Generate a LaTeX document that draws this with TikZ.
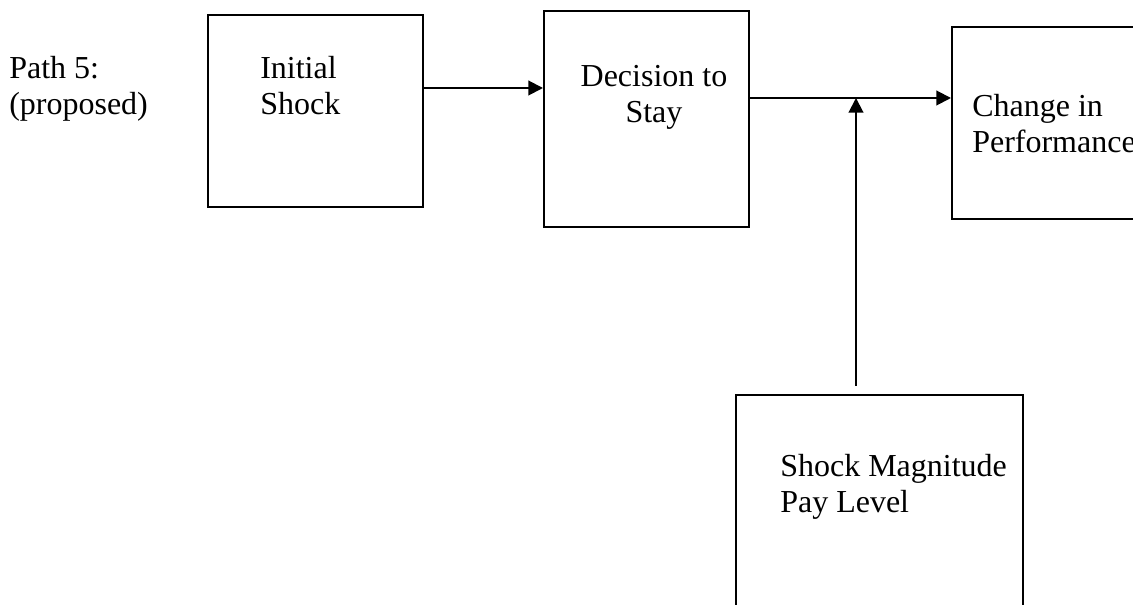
\documentclass[tikz,border=0pt]{standalone}
\usepackage{fontspec}
\setmainfont{Liberation Serif}
\usetikzlibrary{arrows.meta}
\begin{document}
\begin{tikzpicture}[x=0.75pt,y=-0.75pt,
  box/.style={draw=black,line width=1.5pt},
  arr/.style={draw=black,line width=1.5pt,-{Triangle[length=11pt,width=11pt]}},
  lbl/.style={inner sep=0pt,anchor=base west,font=\fontsize{24}{27}\selectfont},
  clbl/.style={inner sep=0pt,anchor=base,font=\fontsize{24}{27}\selectfont}]
\useasboundingbox (0,0) rectangle (1133,605);
\clip (0,0) rectangle (1133,605);
% boxes
\node[box,inner sep=0pt,minimum width=215*0.75pt,minimum height=192*0.75pt] (init) at (315.5,111) {};
\node[box,inner sep=0pt,minimum width=205*0.75pt,minimum height=216*0.75pt] (dec) at (646.5,119) {};
\node[box,inner sep=0pt,minimum width=200*0.75pt,minimum height=192*0.75pt] (chg) at (1052,123) {};
\node[box,inner sep=0pt,minimum width=287*0.75pt,minimum height=240*0.75pt] (mag) at (879.5,515) {};
% texts
\node[lbl] (p1) at (9,79) {Path 5:};
\node[lbl] (p2) at (9,115) {(proposed)};
\node[lbl] (i1) at (260,79) {Initial};
\node[lbl] (i2) at (260,115) {Shock};
\node[clbl] (d1) at (654,87) {Decision to};
\node[clbl] (d2) at (654,123) {Stay};
\node[lbl] (c1) at (972,117) {Change in};
\node[lbl] (c2) at (972,153) {Performance};
\node[lbl] (m1) at (780,477) {Shock Magnitude};
\node[lbl] (m2) at (780,513) {Pay Level};
% connectors
\coordinate (a) at (480,88);
\coordinate (j) at (856,98);
\draw[arr] (init.east |- a) -- (dec.west |- a);
\draw[arr] (dec.east |- j) -- (chg.west |- j);
\draw[arr,shorten <=6pt] (mag.north -| j) -- (j);
\end{tikzpicture}
\end{document}
